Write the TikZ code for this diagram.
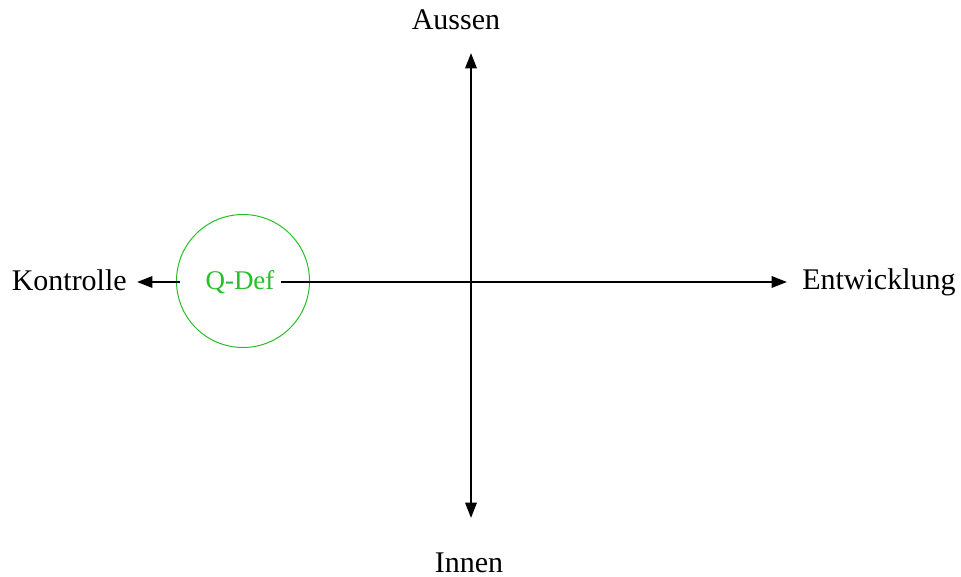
\documentclass[tikz,border=0pt]{standalone}
\usepackage{fontspec}
\setmainfont{Liberation Serif}
\usetikzlibrary{positioning, arrows.meta, calc}

\definecolor{qgreen}{RGB}{40,190,40}

\begin{document}
\begin{tikzpicture}[
    x=0.75pt,
    y=-0.75pt,
    >={Triangle[length=11.5pt, width=8.5pt]},
    arrow/.style={
        ->,
        line width=1.6pt
    },
    axislabel/.style={
        inner sep=0pt,
        font=\fontsize{22.5}{27}\selectfont
    },
    qcircle/.style={
        circle,
        draw=qgreen,
        line width=0.75pt,
        minimum size=99.75pt,
        inner sep=0pt
    },
    qtext/.style={
        text=qgreen,
        inner sep=5pt,
        font=\fontsize{20.25}{24}\selectfont
    }
]
    \useasboundingbox (0,0) rectangle (961,577);

    % Axis ends
    \coordinate (o) at (471,282);
    \coordinate (east end) at (787,282);
    \coordinate (west end) at (137,282);
    \coordinate (north end) at (471,53);
    \coordinate (south end) at (471,518);

    % Labels
    \node[axislabel, anchor=base west] (entwicklung) at (802,290) {Entwicklung};
    \node[axislabel, anchor=base east] (kontrolle) at (127,291) {Kontrolle};
    \node[axislabel, anchor=base] (aussen) at (456,30) {Aussen};
    \node[axislabel, anchor=base] (innen) at (469,572) {Innen};

    % Q-Def
    \node[qcircle] (qcirc) at (243,281) {};
    \node[qtext] (qdef) at (240,282) {Q-Def};

    % Axes
    \draw[arrow, <->] (south end) -- (north end);
    \draw[arrow] (qdef.east) -- (east end);
    \draw[arrow] ([xshift=3pt]qcirc.west |- o) -- (west end);

\end{tikzpicture}
\end{document}
